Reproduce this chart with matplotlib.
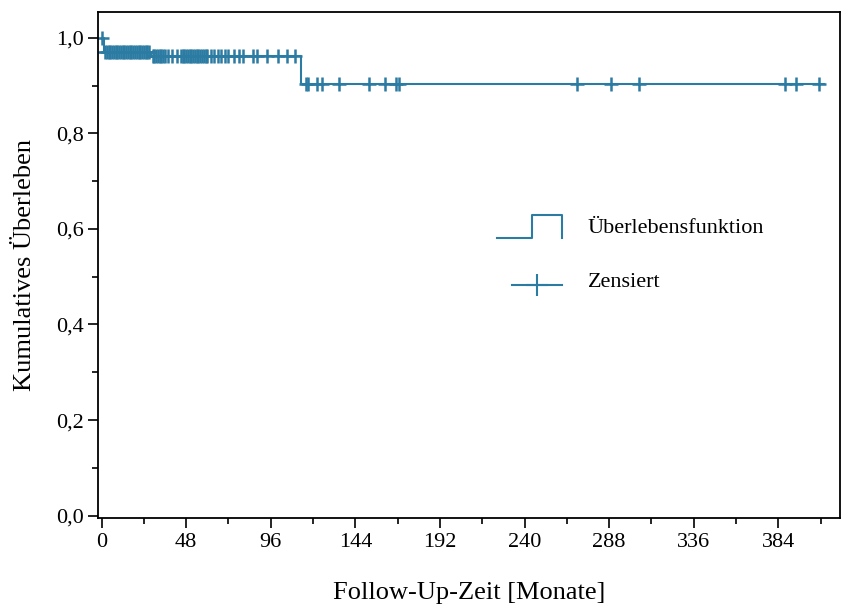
import matplotlib.pyplot as plt
from matplotlib.ticker import FuncFormatter, MultipleLocator

plt.rcParams['font.family'] = ['Liberation Serif', 'DejaVu Serif']

# step function: times and survival
step_t = [0, 1.5, 28, 113, 410]
step_s = [1.0, 0.971, 0.962, 0.904, 0.904]

# censored observations
cens_t1 = [2, 3, 4, 5, 6, 7, 8, 9, 10, 11, 12, 13, 14, 15, 16, 17, 18, 19, 20, 21, 22, 23, 24, 25, 26, 27]
cens_t2 = [29, 30, 31, 32, 33, 34, 35, 36, 38, 40, 43, 45, 46, 47, 48, 49, 50, 51, 52, 53, 54, 55, 56, 57,
           58, 59, 60, 62, 64, 66, 68, 70, 72, 75, 78, 80, 86, 88, 94, 100, 105, 110]
cens_t3 = [116, 117, 122, 125, 135, 152, 161, 167, 169, 270, 289, 305, 388, 394, 407]

col = '#2b7ba3'
fig = plt.figure(figsize=(8.46, 6.14), dpi=100)
ax = fig.add_axes([98/846, 96/614, 742/846, 506/614])

ms, mew = 10, 1.8
ax.step(step_t, step_s, where='post', color=col, lw=1.5)
ax.plot([0], [1.0], '+', color=col, ms=ms, mew=mew)
ax.plot(cens_t1, [0.971]*len(cens_t1), '+', color=col, ms=ms, mew=mew)
ax.plot(cens_t2, [0.962]*len(cens_t2), '+', color=col, ms=ms, mew=mew)
ax.plot(cens_t3, [0.904]*len(cens_t3), '+', color=col, ms=ms, mew=mew)

# legend drawn by hand in axes fraction
ax.plot([0.538, 0.585, 0.585, 0.625, 0.625], [0.553, 0.553, 0.599, 0.599, 0.553],
        transform=ax.transAxes, color=col, lw=1.5)
ax.text(0.66, 0.572, 'Überlebensfunktion', transform=ax.transAxes, fontsize=16, va='center')
ax.plot([0.558, 0.625], [0.46, 0.46], transform=ax.transAxes, color=col, lw=1.5)
ax.plot([0.592], [0.46], '+', transform=ax.transAxes, color=col, ms=16, mew=1.5)
ax.text(0.66, 0.465, 'Zensiert', transform=ax.transAxes, fontsize=16, va='center')

ax.set_xlim(-2, 419)
ax.set_ylim(-0.005, 1.054)
ax.xaxis.set_major_locator(MultipleLocator(48))
ax.xaxis.set_minor_locator(MultipleLocator(24))
ax.yaxis.set_major_locator(MultipleLocator(0.2))
ax.yaxis.set_minor_locator(MultipleLocator(0.1))
ax.yaxis.set_major_formatter(FuncFormatter(lambda v, p: f'{v:.1f}'.replace('.', ',')))
ax.tick_params(which='major', length=7, width=1.2, labelsize=16)
ax.tick_params(which='minor', length=4, width=1.2)
for s in ax.spines.values():
    s.set_linewidth(1.3)
ax.set_xlabel('Follow-Up-Zeit [Monate]', fontsize=19, labelpad=22)
ax.set_ylabel('Kumulatives Überleben', fontsize=19, labelpad=14)

fig.savefig('out.png')
